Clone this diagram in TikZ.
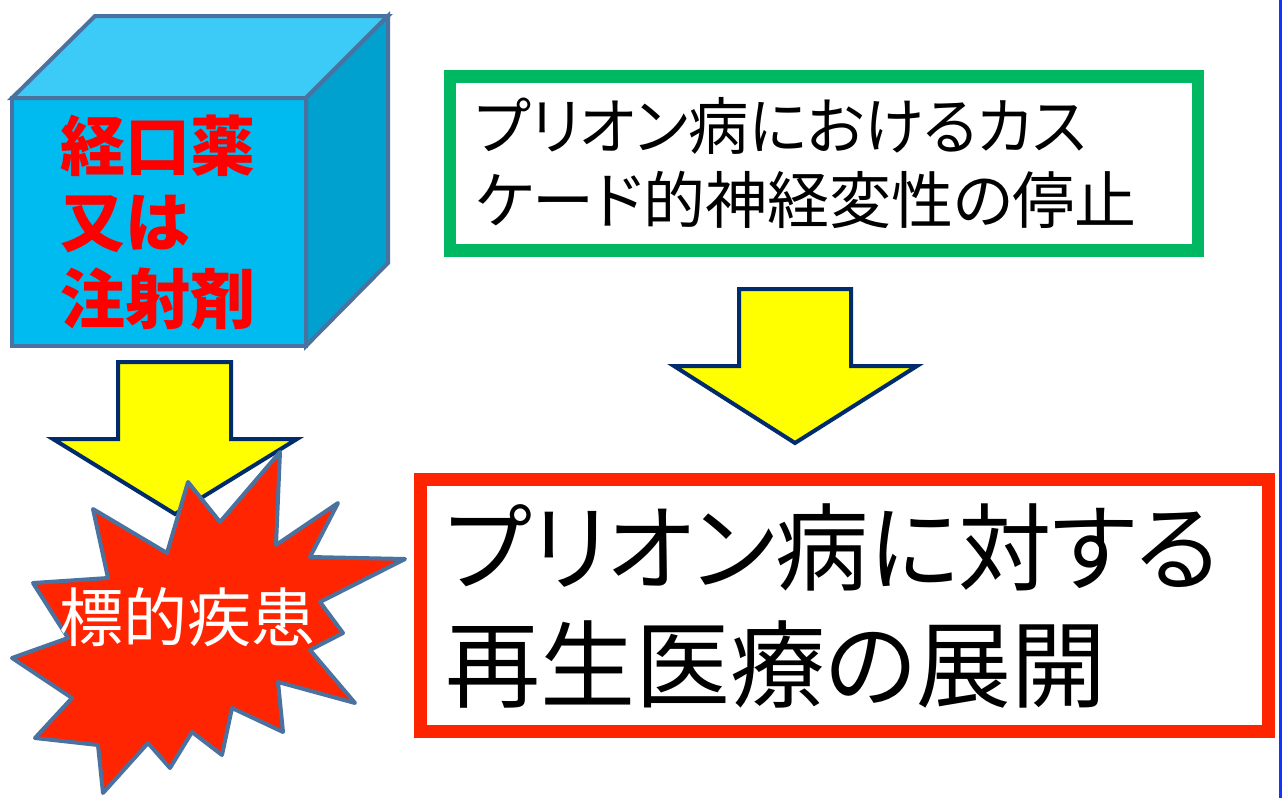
\documentclass[tikz,border=0pt]{standalone}
\usepackage{graphicx}
\usepackage{fontspec}
\newfontfamily\jp[RawFeature=+palt]{Noto Sans CJK JP}
\definecolor{cubefront}{HTML}{00BBEF}
\definecolor{cubetop}{HTML}{3CCAF6}
\definecolor{cubeside}{HTML}{00A1CE}
\definecolor{cubeedge}{HTML}{4A72A0}
\definecolor{arrowedge}{HTML}{002C6E}
\definecolor{arrowfill}{HTML}{FFFF00}
\definecolor{boomred}{HTML}{FF2500}
\definecolor{boxgreen}{HTML}{00B862}
\definecolor{boxred}{HTML}{FF2400}
\definecolor{edgeblue}{HTML}{1035FF}
\definecolor{textred}{HTML}{FF0000}
\begin{document}
\begin{tikzpicture}[x=1pt,y=-1pt,
  cubeface/.style={draw=cubeedge,line width=4pt,line join=miter},
  blockarrow/.style={draw=arrowedge,fill=arrowfill,line width=4pt,line join=miter},
  framebox/.style={rectangle,line width=12.5pt,fill=white,align=left,font=\jp,inner ysep=0pt},
]
\path[use as bounding box,fill=white] (0,0) rectangle (1283,798);
% right blue edge
\draw[edgeblue,line width=3pt] (1280.5,0) -- (1280.5,798);
% cube
\path[cubeface,fill=cubefront] (12,98) rectangle (306,346);
\path[cubeface,fill=cubetop] (12,98) -- (95,16) -- (388,16) -- (306,98) -- cycle;
\path[cubeface,fill=cubeside] (306,98) -- (388,16) -- (388,263) -- (306,346) -- cycle;
\node[anchor=west,inner sep=0pt,align=left,text=textred,font=\jp\bfseries\fontsize{65}{76.5}\selectfont] (drug) at (60,222) {経口薬\\又は\\注射剤};
% left arrow
\path[blockarrow] (118,362) -- (231,362) -- (231,439) -- (297,439) -- (175,514) -- (53,439) -- (118,439) -- cycle;
% star
\path[draw=cubeedge,fill=boomred,line width=4pt,line join=round]
 (188,482) -- (220,522) -- (280,452) -- (276,545) -- (338,503) -- (310,557) -- (405,559) -- (320,602) -- (343,633) -- (310,650) -- (355,703) -- (278,682) -- (283,732) -- (232,708) -- (222,755) -- (192,732) -- (170,768) -- (148,743) -- (103,793) -- (98,745) -- (35,738) -- (72,698) -- (12,658) -- (68,638) -- (33,583) -- (108,578) -- (93,509) -- (167,553) -- cycle;
\node[inner sep=0pt,text=white,font=\jp\fontsize{64}{70}\selectfont] (target) at (187.5,617) {標的疾患};
% green box
\node[framebox,draw=boxgreen,minimum height=174pt,inner xsep=25pt,text width=698pt,font=\jp\fontsize{62}{74}\selectfont] (cascade) at (824,163.5) {\scalebox{0.971}[1]{プリオン病におけるカス}\\ケード的神経変性の停止};
% right arrow
\path[blockarrow] (739,289) -- (851,289) -- (851,366) -- (917,366) -- (795,443) -- (674,366) -- (739,366) -- cycle;
% red box
\node[framebox,draw=boxred,minimum height=252pt,inner xsep=24.5pt,text width=799pt,font=\jp\fontsize{95}{117}\selectfont] (regen) at (844.5,605.5) {\scalebox{0.981}[1]{プリオン病に対する}\\再生医療の展開};
\end{tikzpicture}
\end{document}
